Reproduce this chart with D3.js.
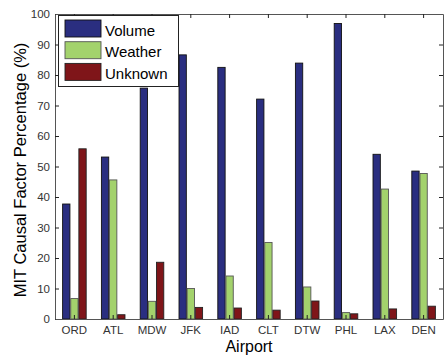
<!DOCTYPE html>
<html>
<head>
<meta charset="utf-8">
<script src="https://cdn.jsdelivr.net/npm/d3@7"></script>
<style>
  body { margin: 0; background: #fff; }
  svg text { font-family: Arial, "Liberation Sans", sans-serif; }
</style>
</head>
<body>
<div id="chart"></div>
<script>
// data
var airports = ["ORD", "ATL", "MDW", "JFK", "IAD", "CLT", "DTW", "PHL", "LAX", "DEN"]
var series = ["Volume", "Weather", "Unknown"]
var volume  = [37.7, 53.1, 75.7, 86.6, 82.5, 72.1, 83.9, 96.9, 54.0, 48.5]
var weather = [6.7, 45.6, 5.8, 10.0, 14.1, 25.1, 10.5, 2.1, 42.6, 47.7]
var unknown = [55.8, 1.4, 18.6, 3.8, 3.6, 2.9, 5.9, 1.7, 3.3, 4.2]
var yTicks = [0, 10, 20, 30, 40, 50, 60, 70, 80, 90, 100]

var colors = ["#2a2e80", "#a3d26c", "#7f1519"]
var strokes = ["#111", "#555", "#222"]

var W = 445, H = 356
var plot = {left: 55, right: 443, top: 14, bottom: 319}

var svg = d3.select("#chart").append("svg")
    .attr("width", W)
    .attr("height", H)

var xScale = d3.scaleBand()
    .domain(airports)
    .range([plot.left, plot.right])
    .padding(0)

var inner = d3.scaleBand()
    .domain(series)
    .range([-12.6, 12.6])
    .padding(0.1)

var yScale = d3.scaleLinear()
    .domain([0, 100])
    .range([plot.bottom, plot.top])

var rows = airports.map(function(a, i) {
  return {airport: a, values: [volume[i], weather[i], unknown[i]]}
})

// bars
var groups = svg.append("g").selectAll("g")
  .data(rows)
  .enter().append("g")
  .attr("transform", function(d) { return "translate(" + (xScale(d.airport) + xScale.bandwidth() / 2) + ",0)" })

groups.selectAll("rect")
  .data(function(d) { return d.values.map(function(v, j) { return {v: v, j: j} }) })
  .enter().append("rect")
  .attr("x", function(d) { return inner(series[d.j]) })
  .attr("width", inner.bandwidth())
  .attr("y", function(d) { return yScale(d.v) })
  .attr("height", function(d) { return yScale(0) - yScale(d.v) })
  .attr("fill", function(d) { return colors[d.j] })
  .attr("stroke", function(d) { return strokes[d.j] })
  .attr("stroke-width", 0.9)

// axes, matlab style box with inward ticks
var yAxis = d3.axisLeft(yScale).tickValues(yTicks).tickSizeInner(-4).tickSizeOuter(0).tickPadding(5)
var yAxisR = d3.axisRight(yScale).tickValues(yTicks).tickSizeInner(-4).tickSizeOuter(0).tickFormat("")
var xAxis = d3.axisBottom(xScale).tickSizeInner(-4).tickSizeOuter(0).tickPadding(7)
var xAxisT = d3.axisTop(xScale).tickSizeInner(-4).tickSizeOuter(0).tickFormat("")

svg.append("g").attr("class", "axis")
  .attr("transform", "translate(" + plot.left + ",0)").call(yAxis)
svg.append("g").attr("class", "axis")
  .attr("transform", "translate(" + plot.right + ",0)").call(yAxisR)
svg.append("g").attr("class", "axis")
  .attr("transform", "translate(0," + plot.bottom + ")").call(xAxis)
svg.append("g").attr("class", "axis")
  .attr("transform", "translate(0," + plot.top + ")").call(xAxisT)

svg.selectAll(".axis .domain").attr("stroke", "#555")
svg.selectAll(".axis line").attr("stroke", "#222")
svg.selectAll(".axis text")
  .attr("font-size", 11.5)
  .attr("fill", "#333")

// labels
svg.append("text")
  .attr("x", (plot.left + plot.right) / 2)
  .attr("y", 352)
  .attr("text-anchor", "middle")
  .attr("font-size", 16)
  .text("Airport")

svg.append("text")
  .attr("transform", "translate(26,170)rotate(-90)")
  .attr("text-anchor", "middle")
  .attr("font-size", 16.5)
  .text("MIT Causal Factor Percentage (%)")

// legend
var legend = svg.append("g")
legend.append("rect")
  .attr("x", 58.5).attr("y", 15.5)
  .attr("width", 120).attr("height", 71)
  .attr("fill", "#fff")
  .attr("stroke", "#222")

var item = legend.selectAll("g")
  .data(series)
  .enter().append("g")
  .attr("transform", function(d, i) { return "translate(0," + (i * 21.7) + ")" })

item.append("rect")
  .attr("x", 65).attr("y", 20)
  .attr("width", 36).attr("height", 17)
  .attr("fill", function(d, i) { return colors[i] })
  .attr("stroke", function(d, i) { return strokes[i] })
  .attr("stroke-width", 0.9)

item.append("text")
  .attr("x", 105)
  .attr("y", 35.5)
  .attr("font-size", 15)
  .text(function(d) { return d })
</script>
</body>
</html>
